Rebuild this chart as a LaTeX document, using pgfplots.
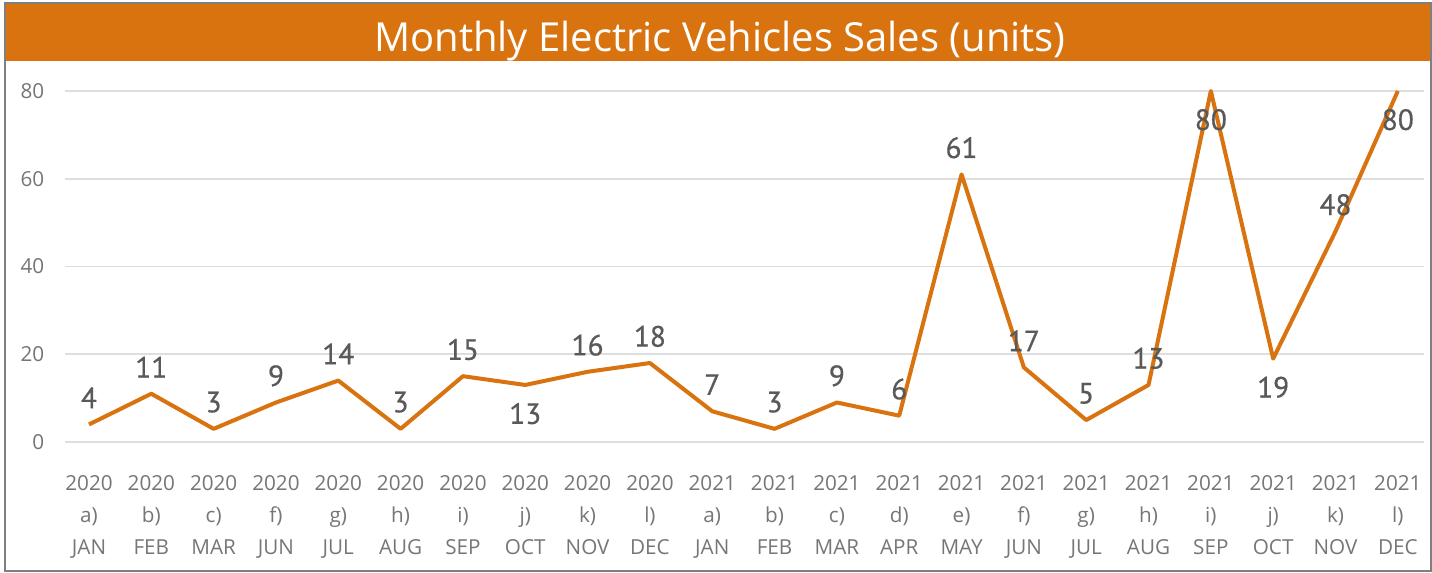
\documentclass[border=0pt]{standalone}
\usepackage{pgfplots}
\pgfplotsset{compat=1.18}
\usepackage{fontspec}
\setmainfont{Open Sans}
\newfontfamily\ptsans[FakeBold=0.6]{PT Sans}
\definecolor{orng}{RGB}{217,115,15}
\definecolor{tickgray}{RGB}{118,118,118}
\definecolor{lblgray}{RGB}{89,89,89}
\definecolor{gridgray}{RGB}{222,222,222}
\definecolor{bordergray}{RGB}{127,127,127}
\begin{document}
\begin{tikzpicture}
\path[use as bounding box] (0,0) rectangle (1074pt,-429.75pt);
\begin{scope}[x=0.75pt,y=-0.75pt]
\fill[white] (0,0) rectangle (1432,573);
\fill[orng] (5,3) rectangle (1432,61);
\draw[bordergray, line width=1.2pt] (5,3) rectangle (1431,571);
\node[white, anchor=base, inner sep=0pt, font=\fontsize{30}{36}\selectfont] at (720,52) {Monthly Electric Vehicles Sales (units)};
\end{scope}
\begin{axis}[
  at={(48.75pt,-331.5pt)}, anchor=south west,
  scale only axis, width=1019.25pt, height=263.25pt,
  xmin=-0.385, xmax=21.42, ymin=0, ymax=80,
  clip=false,
  axis line style={draw=none},
  major tick length=0pt,
  ymajorgrids, grid style={gridgray, line width=1.3pt},
  ytick={0,20,40,60,80},
  xtick={0,...,21},
  xticklabels={{2020\\a)\\JAN},{2020\\b)\\FEB},{2020\\c)\\MAR},{2020\\f)\\JUN},{2020\\g)\\JUL},{2020\\h)\\AUG},{2020\\i)\\SEP},{2020\\j)\\OCT},{2020\\k)\\NOV},{2020\\l)\\DEC},{2021\\a)\\JAN},{2021\\b)\\FEB},{2021\\c)\\MAR},{2021\\d)\\APR},{2021\\e)\\MAY},{2021\\f)\\JUN},{2021\\g)\\JUL},{2021\\h)\\AUG},{2021\\i)\\SEP},{2021\\j)\\OCT},{2021\\k)\\NOV},{2021\\l)\\DEC}},
  xticklabel style={align=center, anchor=north, yshift=-21.5pt, text=tickgray, font=\fontsize{15.5}{24}\selectfont},
  yticklabel style={anchor=east, xshift=-12pt, text=tickgray, font=\fontsize{15.5}{18}\selectfont},
  /pgf/number format/assume math mode=true,
]
\addplot[orng, line width=3pt, line join=round, mark=none] coordinates {
(0,4) (1,11) (2,3) (3,9) (4,14) (5,3) (6,15) (7,13) (8,16) (9,18) (10,7) (11,3) (12,9) (13,6) (14,61) (15,17) (16,5) (17,13) (18,80) (19,19) (20,48) (21,80)};
\addplot[draw=none, mark=none, nodes near coords,
  every node near coord/.append style={anchor=center, yshift=20pt, text=lblgray, font=\ptsans\fontsize{22}{26}\selectfont}] coordinates {
(0,4) (1,11) (2,3) (3,9) (4,14) (5,3) (6,15) (8,16) (9,18) (10,7) (11,3) (12,9) (13,6) (14,61) (15,17) (16,5) (17,13) (20,48)};
\addplot[draw=none, mark=none, nodes near coords,
  every node near coord/.append style={anchor=center, yshift=-21.5pt, text=lblgray, font=\ptsans\fontsize{22}{26}\selectfont}] coordinates {
(7,13) (18,80) (19,19) (21,80)};
\end{axis}
\end{tikzpicture}
\end{document}
